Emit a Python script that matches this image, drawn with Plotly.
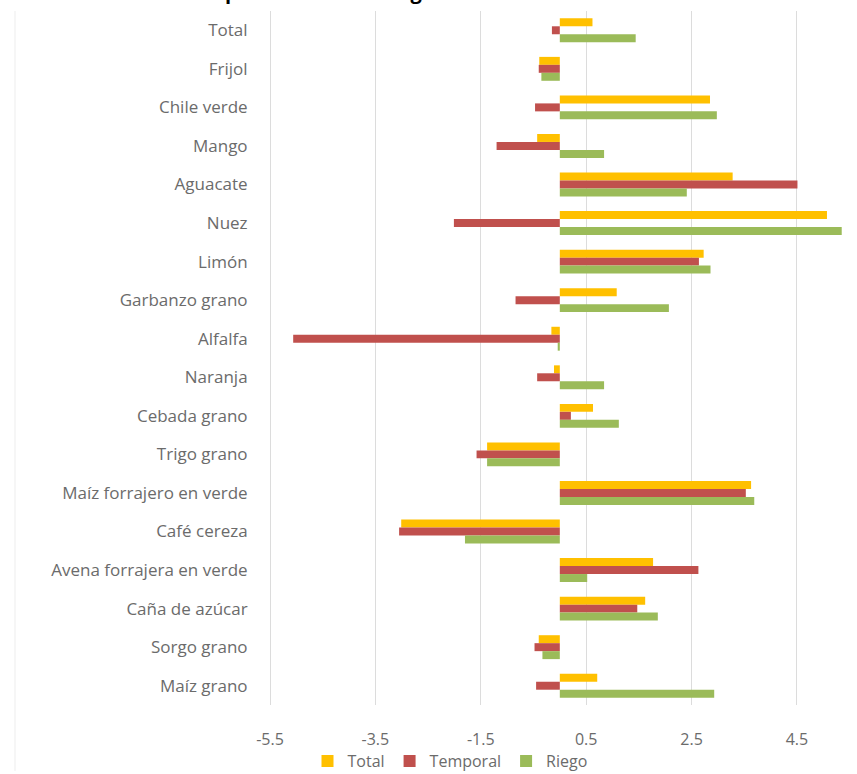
import plotly.graph_objects as go

# Cultivos, de arriba hacia abajo
cultivos = [
    "Total", "Frijol", "Chile verde", "Mango", "Aguacate", "Nuez", "Limón",
    "Garbanzo grano", "Alfalfa", "Naranja", "Cebada grano", "Trigo grano",
    "Maíz forrajero en verde", "Café cereza", "Avena forrajera en verde",
    "Caña de azúcar", "Sorgo grano", "Maíz grano",
]

total = [0.62, -0.39, 2.85, -0.43, 3.28, 5.07, 2.73, 1.08, -0.16, -0.11,
         0.63, -1.38, 3.63, -3.01, 1.77, 1.62, -0.40, 0.71]
temporal = [-0.15, -0.40, -0.47, -1.20, 4.51, -2.01, 2.64, -0.84, -5.06, -0.43,
            0.21, -1.58, 3.53, -3.05, 2.63, 1.47, -0.48, -0.45]
riego = [1.44, -0.35, 2.98, 0.84, 2.41, 5.35, 2.86, 2.07, -0.04, 0.84,
         1.12, -1.38, 3.69, -1.80, 0.52, 1.86, -0.33, 2.93]

tick_vals = [-5.5, -3.5, -1.5, 0.5, 2.5, 4.5]
tick_text = ["-5.5", "-3.5", "-1.5", "0.5", "2.5", "4.5"]

series = [
    ("Total", total, "#FFC000"),
    ("Temporal", temporal, "#C0504D"),
    ("Riego", riego, "#9BBB59"),
]

fig = go.Figure()
for name, vals, color in series:
    fig.add_trace(go.Bar(
        y=cultivos, x=vals, name=name, orientation="h",
        marker=dict(color=color, line=dict(width=0)),
    ))

text_font = dict(family="Open Sans, Segoe UI, sans-serif", size=17, color="#6b6b6b")
small_font = dict(family="Open Sans, Segoe UI, sans-serif", size=16, color="#6b6b6b")

fig.update_layout(
    width=857, height=774,
    margin=dict(l=266, r=0, t=11, b=69, autoexpand=False),
    paper_bgcolor="white", plot_bgcolor="white",
    barmode="group", bargap=0.38, bargroupgap=0,
    font=text_font,
    showlegend=True,
    legend=dict(
        orientation="h", xref="container", yref="container",
        x=450 / 857, xanchor="center", y=30 / 774, yanchor="top",
        font=small_font, itemwidth=30, bgcolor="rgba(0,0,0,0)",
    ),
    xaxis=dict(
        range=[-5.576, 5.64], tickmode="array", tickvals=tick_vals, ticktext=tick_text,
        showgrid=True, gridcolor="#DCDCDC", gridwidth=1, zeroline=False,
        showline=False, ticks="outside", ticklen=20, tickcolor="rgba(0,0,0,0)",
        tickfont=small_font, fixedrange=True,
    ),
    yaxis=dict(
        autorange="reversed", showgrid=False, zeroline=False, showline=False,
        ticks="outside", ticklen=14, tickcolor="rgba(0,0,0,0)",
        tickfont=text_font, fixedrange=True,
    ),
)

# Borde izquierdo del área del gráfico
fig.add_shape(
    type="line", xref="paper", yref="paper",
    x0=(15 - 266) / 591, x1=(15 - 266) / 591, y0=1.0, y1=-0.095,
    line=dict(color="#EDEDED", width=1),
)

# Título del gráfico
fig.add_annotation(
    text="<b>Crecimiento promedio anual según modalidad</b>",
    xref="paper", yref="paper", x=(96 - 266) / 591, y=1.0,
    xanchor="left", yanchor="bottom", yshift=4, showarrow=False,
    font=dict(family="Open Sans, sans-serif", size=20, color="#000000"),
)

fig.write_html("out.html")
